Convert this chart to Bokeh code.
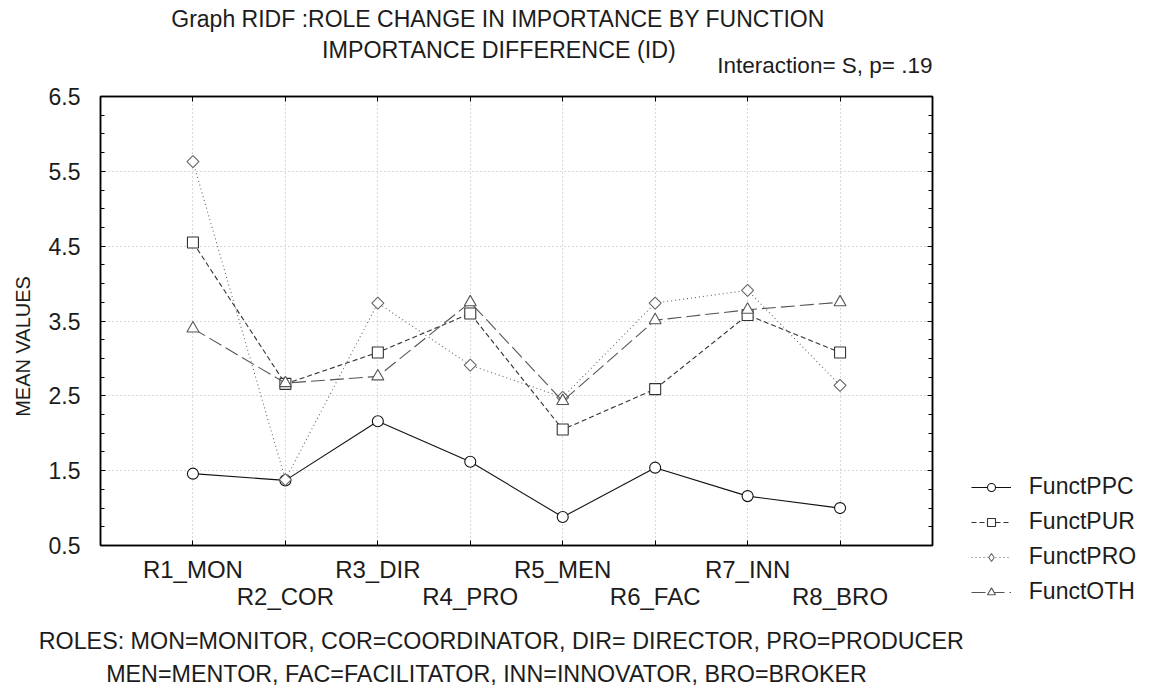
import numpy as np
from bokeh.plotting import figure
from bokeh.models import (Range1d, LinearAxis, FixedTicker, Legend, LegendItem,
                          CustomLabelingPolicy)
from bokeh.embed import file_html
from bokeh.resources import INLINE

# ---------------- data ----------------
categories = ["R1_MON", "R2_COR", "R3_DIR", "R4_PRO", "R5_MEN", "R6_FAC", "R7_INN", "R8_BRO"]
funct_ppc = [1.46, 1.37, 2.16, 1.62, 0.88, 1.54, 1.16, 1.00]
funct_pur = [4.55, 2.66, 3.08, 3.60, 2.05, 2.59, 3.58, 3.08]
funct_pro = [5.63, 1.38, 3.74, 2.91, 2.48, 3.74, 3.91, 2.64]
funct_oth = [3.40, 2.67, 2.76, 3.75, 2.43, 3.51, 3.65, 3.75]
series_names = ["FunctPPC", "FunctPUR", "FunctPRO", "FunctOTH"]
y_ticks = [0.5, 1.5, 2.5, 3.5, 4.5, 5.5, 6.5]
y_minor_ticks = [0.5 + 0.25 * i for i in range(25)]

title_1 = "Graph RIDF :ROLE CHANGE IN IMPORTANCE BY FUNCTION"
title_2 = "IMPORTANCE DIFFERENCE (ID)"
interaction_text = "Interaction= S, p=  .19"
y_label = "MEAN VALUES"
note_1 = "ROLES: MON=MONITOR, COR=COORDINATOR, DIR= DIRECTOR, PRO=PRODUCER"
note_2 = "MEN=MENTOR, FAC=FACILITATOR, INN=INNOVATOR, BRO=BROKER"

x = list(range(1, len(categories) + 1))

FONT = "Liberation Sans"
TXT = "#1c1c1c"
FS = "23px"

p = figure(width=None, height=None, frame_width=832, frame_height=449,
           output_backend="svg", toolbar_location=None,
           x_range=Range1d(0, len(categories) + 1), y_range=Range1d(y_ticks[0], y_ticks[-1]),
           min_border_left=100, min_border_right=219, min_border_top=96, min_border_bottom=142)
p.background_fill_color = "white"
p.border_fill_color = "white"
p.outline_line_color = "black"
p.outline_line_width = 1.5

xax = p.below[0]
yax = p.left[0]

hide_all = CustomLabelingPolicy(code="""
const ids = Array.from(indices)
for (const i of ids) indices.unset(i)
return indices
""")
odd_only = CustomLabelingPolicy(code="""
const ids = Array.from(indices)
for (const i of ids) { if (i % 2 == 1) indices.unset(i) }
return indices
""")

def style_axis(ax):
    ax.axis_line_color = "black"
    ax.axis_line_width = 1.5
    ax.major_tick_line_color = "black"
    ax.minor_tick_line_color = "black"
    ax.major_tick_in = 5
    ax.major_tick_out = 0
    ax.minor_tick_in = 4
    ax.minor_tick_out = 0
    ax.major_label_text_font = FONT
    ax.major_label_text_color = TXT

def text_axis(side, pos, text, standoff, size, orientation="horizontal"):
    ax = LinearAxis(ticker=FixedTicker(ticks=[pos], minor_ticks=[]))
    ax.axis_line_color = None
    ax.major_tick_line_color = None
    ax.minor_tick_line_color = None
    ax.major_tick_in = 0
    ax.major_tick_out = 0
    ax.major_label_text_font = FONT
    ax.major_label_text_color = TXT
    ax.major_label_text_font_size = size
    ax.major_label_standoff = standoff
    ax.major_label_orientation = orientation
    ax.major_label_overrides = {pos: text}
    p.add_layout(ax, side)
    return ax

# left axis
ytick = FixedTicker(ticks=y_ticks, minor_ticks=y_minor_ticks)
yax.ticker = ytick
style_axis(yax)
yax.major_label_text_font_size = FS
yax.major_label_standoff = 20
text_axis("left", 3.16, y_label, 11, "20px", orientation="vertical")

# bottom axis: odd category labels
xtick = FixedTicker(ticks=x, minor_ticks=[])
xax.ticker = xtick
style_axis(xax)
xax.major_label_text_font_size = "24px"
xax.major_label_standoff = 10
xax.major_label_policy = odd_only
xax.major_label_overrides = {xi: c for xi, c in zip(x, categories)}

# second bottom row: even category labels
eax = LinearAxis(ticker=FixedTicker(ticks=x[1::2], minor_ticks=[]))
eax.axis_line_color = None
eax.major_tick_line_color = None
eax.minor_tick_line_color = None
eax.major_tick_in = 0
eax.major_tick_out = 0
eax.major_label_text_font = FONT
eax.major_label_text_color = TXT
eax.major_label_text_font_size = "24px"
eax.major_label_standoff = -3
eax.major_label_overrides = {xi: c for xi, c in zip(x[1::2], categories[1::2])}
p.add_layout(eax, "below")

# footnotes
text_axis("below", 4.335, note_1, 15, "23.3px")
text_axis("below", 4.176, note_2, 4, "23.3px")

# right axis (ticks only)
rax = LinearAxis(ticker=FixedTicker(ticks=y_ticks, minor_ticks=y_minor_ticks), major_label_policy=hide_all)
style_axis(rax)
rax.major_label_text_font_size = "0px"
rax.major_label_standoff = 0
p.add_layout(rax, "right")

# top axis (ticks only) + title texts
tax = LinearAxis(ticker=FixedTicker(ticks=x, minor_ticks=[]), major_label_policy=hide_all)
style_axis(tax)
tax.major_label_text_font_size = "0px"
tax.major_label_standoff = 0
p.add_layout(tax, "above")
text_axis("above", 7.87, interaction_text, 19, "22.5px")
text_axis("above", 4.31, title_2, -13, "23.3px")
text_axis("above", 4.30, title_1, 2, FS)

# grids
p.xgrid[0].ticker = xtick
p.ygrid[0].ticker = ytick
for g in (p.xgrid[0], p.ygrid[0]):
    g.grid_line_color = "#b0b0b0"
    g.grid_line_dash = "1 3"
    g.grid_line_width = 1

# series
styles = [
    dict(data=funct_ppc, color="#111111", dash="solid", marker="circle", size=11, angle=0.0, key=None),
    dict(data=funct_pur, color="#333333", dash="5 3", marker="square", size=11, angle=0.0, key=None),
    dict(data=funct_pro, color="#666666", dash="1 3", marker="square", size=8.5, angle=np.pi / 4, key="diamond"),
    dict(data=funct_oth, color="#555555", dash="14 5", marker="triangle", size=12, angle=0.0, key=None),
]
items = []
for name, st in zip(series_names, styles):
    ln = p.line(x, st["data"], line_color=st["color"], line_width=1.1, line_dash=st["dash"])
    pt = p.scatter(x, st["data"], marker=st["marker"], size=st["size"], angle=st["angle"],
                   fill_color="white", line_color=st["color"], line_width=1.1)
    rends = [ln, pt]
    if st["key"] is not None:
        # legend key only (a NaN point, never drawn in the plot): diamond symbol for the legend
        key = p.scatter([float("nan")], [float("nan")], marker=st["key"], size=13,
                        fill_color="white", line_color=st["color"], line_width=1.1)
        rends = [ln, key]
    items.append(LegendItem(label=name, renderers=rends))

legend = Legend(items=items, location=(-191, -60), orientation="vertical",
                glyph_width=40, glyph_height=20, label_standoff=18, spacing=8,
                padding=0, margin=0, border_line_color=None, background_fill_alpha=0,
                label_text_font=FONT, label_text_font_size=FS, label_text_color=TXT)
p.add_layout(legend, "right")

open("out.html", "w").write(file_html(p, INLINE))
